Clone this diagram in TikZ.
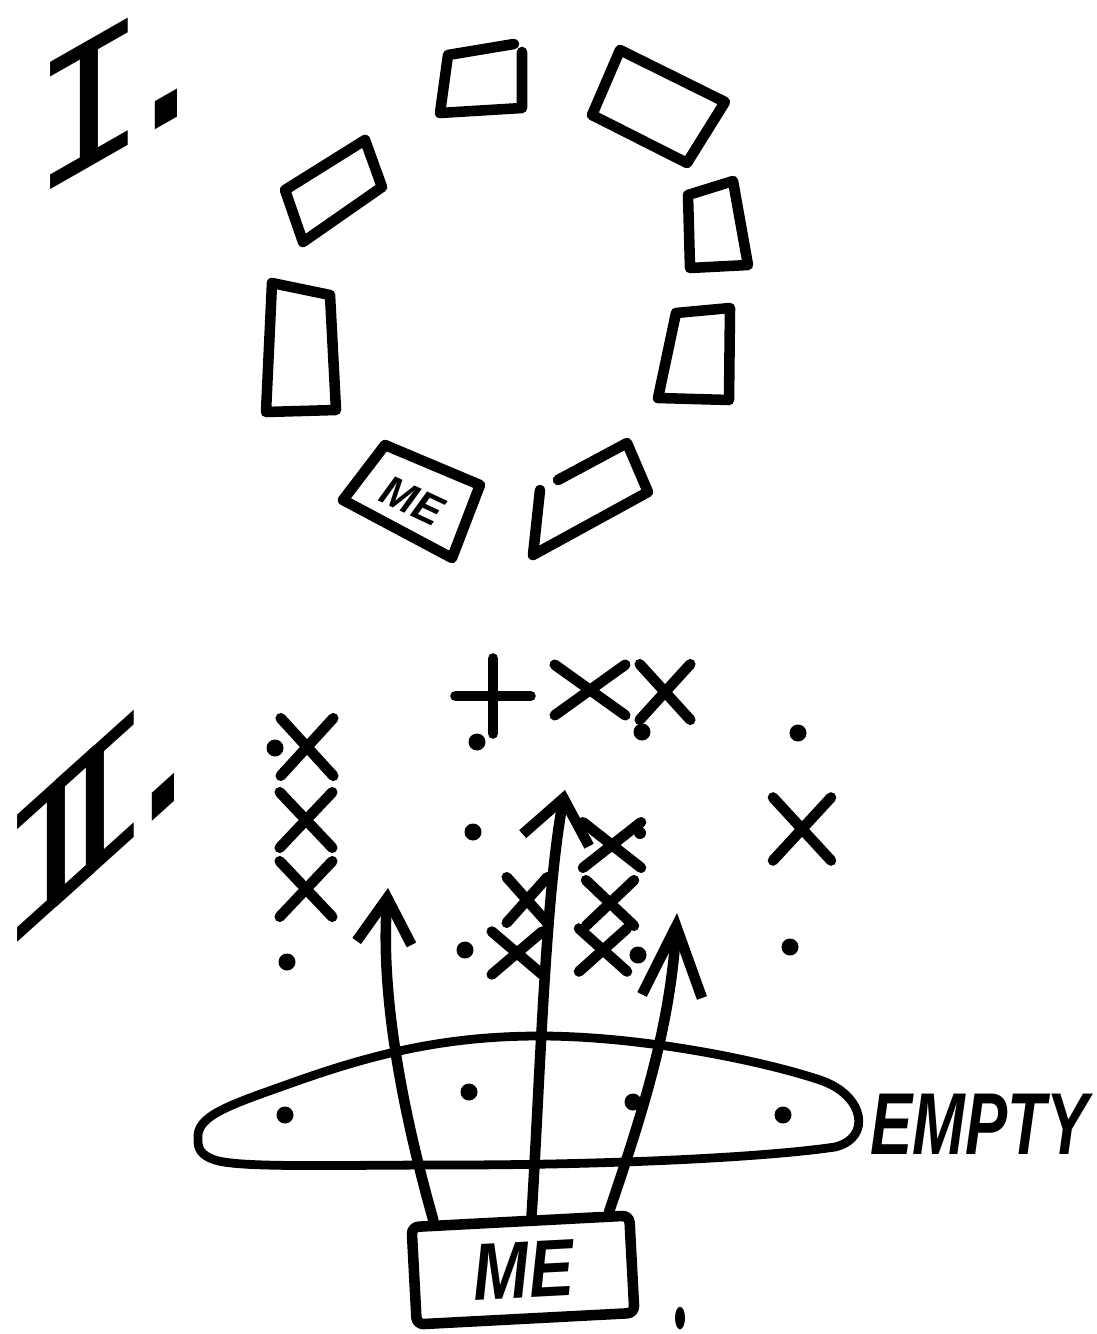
\documentclass[tikz,border=0pt]{standalone}
\usepackage{fontspec}
\usepackage{graphicx}
\newfontfamily\handfont{Liberation Sans}
\newfontfamily\numfont{Liberation Mono}
\usetikzlibrary{arrows.meta,shapes.misc,shapes.geometric,calc}

\begin{document}
\begin{tikzpicture}[
  x=0.02cm, y=-0.02cm,
  line cap=round, line join=round,
  chair/.style={draw, line width=6pt},
  spot/.style={circle, fill, inner sep=0pt, minimum size=0.34cm},
  xmark/.style={cross out, draw, line width=6pt, inner sep=0pt,
                minimum width=0.8cm, minimum height=0.9cm},
  numeral/.style={font=\numfont\fontsize{110}{110}\selectfont, inner sep=0pt, transform shape},
  hand/.style={font=\handfont\bfseries\itshape\fontsize{46}{46}\selectfont, inner sep=0pt},
  reach/.style={line width=6pt},
]
\useasboundingbox (0,0) rectangle (1097,1334);

% ---------- I. the round table ----------
\node[numeral, yslant=0.57] (numI) at (128,82) {I\kern-0.2em.};

\draw[chair] (522,52) -- (522,108) -- (440,113) -- (448,55) -- (514,44);
\draw[chair] (620,50) -- (725,102) -- (687,163) -- (592,115) -- cycle;
\draw[chair] (688,195) -- (733,181) -- (748,265) -- (690,268) -- cycle;
\draw[chair] (676,313) -- (730,308) -- (729,400) -- (658,398) -- cycle;
\draw[chair] (540,490) -- (533,555) -- (648,492) -- (627,443) -- (558,480);
\draw[chair] (385,445) -- (480,485) -- (452,558) -- (343,500) -- cycle;
\node[hand, rotate=-25, font=\handfont\bfseries\itshape\fontsize{24}{24}\selectfont]
  (meseat) at (412,501) {ME};
\draw[chair] (272,283) -- (330,295) -- (336,410) -- (266,412) -- cycle;
\draw[chair] (285,190) -- (365,140) -- (382,187) -- (303,242) -- cycle;

% ---------- II. the crowd ----------
\node[numeral, yslant=0.9] (numII) at (110,796) {I\kern-0.4emI\kern-0.25em.};

\node[spot] (d1) at (275,748) {};
\node[spot] (d2) at (477,742) {};
\node[spot] (d3) at (642,732) {};
\node[spot] (d4) at (798,733) {};
\node[spot] (d5) at (473,832) {};
\node[spot, minimum size=0.24cm] (d6) at (640,833) {};
\node[spot] (d7) at (287,962) {};
\node[spot] (d8) at (465,950) {};
\node[spot] (d9) at (638,955) {};
\node[spot] (d10) at (790,947) {};

\node[xmark, minimum width=0.84cm, minimum height=0.94cm] (c1) at (307,747) {};
\node[xmark, rotate=45, minimum width=0.85cm, minimum height=0.85cm] (c2) at (493,696) {};
\node[xmark, minimum width=1.2cm, minimum height=0.8cm] (c3) at (590,690) {};
\node[xmark] (c4) at (665,692) {};
\node[xmark, minimum width=0.84cm, minimum height=0.9cm] (c5) at (306,820) {};
\node[xmark, minimum width=0.95cm, minimum height=0.7cm] (c6) at (612,845) {};
\node[xmark, minimum width=0.95cm, minimum height=1.05cm] (c7) at (802,829) {};
\node[xmark, minimum width=0.84cm, minimum height=0.9cm] (c8) at (306,889) {};
\node[xmark, minimum width=0.6cm, minimum height=0.7cm] (c9) at (527,900) {};
\node[xmark, minimum width=0.75cm, minimum height=0.7cm] (c10) at (610,903) {};
\node[xmark, minimum width=0.8cm, minimum height=0.65cm] (c11) at (517,953) {};
\node[xmark, minimum width=0.75cm, minimum height=0.65cm] (c12) at (603,950) {};

% ---------- the empty seats ----------
\draw[line width=5pt] (198,1140) .. controls (195,1115) and (230,1105) .. (300,1080)
  .. controls (380,1052) and (450,1036) .. (540,1036)
  .. controls (640,1036) and (760,1060) .. (820,1080)
  .. controls (865,1095) and (872,1138) .. (835,1147)
  .. controls (760,1158) and (600,1165) .. (450,1165)
  .. controls (330,1165) and (240,1168) .. (215,1160)
  .. controls (200,1155) and (198,1148) .. (198,1140) -- cycle;
\node[spot] (e1) at (285,1115) {};
\node[spot] (e2) at (469,1092) {};
\node[spot] (e3) at (633,1102) {};
\node[spot] (e4) at (783,1115) {};
\node[hand, anchor=west, font=\handfont\bfseries\itshape\fontsize{50}{50}\selectfont]
  (empty) at (870,1124) {\scalebox{0.72}[1]{EMPTY}};

% ---------- me and where I go ----------
\node[hand, draw, line width=6pt, rotate=3, minimum width=4.36cm, minimum height=1.95cm,
      rounded corners=4pt] (me) at (523,1270) {\scalebox{0.83}[1]{ME}};
\node[spot, ellipse, minimum width=0.2cm, minimum height=0.45cm] (pen) at (680,1318) {};

\coordinate (tipL) at (388,888);
\coordinate (tipM) at (565,790);
\coordinate (tipR) at (677,913);

\draw[reach, -{Straight Barb[length=0.9cm,width=1.1cm]}]
  ($(me.north west)!0.12!(me.north east)$) .. controls (405,1120) and (380,1000) .. (tipL);
\draw[reach, -{Straight Barb[length=0.85cm,width=1.35cm]}]
  ($(me.north west)!0.55!(me.north east)$) .. controls (540,1080) and (545,900) .. (tipM);
\draw[reach, -{Straight Barb[length=1.4cm,width=1.2cm]}]
  ($(me.north west)!0.89!(me.north east)$) .. controls (640,1120) and (670,1030) .. (tipR);

\end{tikzpicture}
\end{document}
